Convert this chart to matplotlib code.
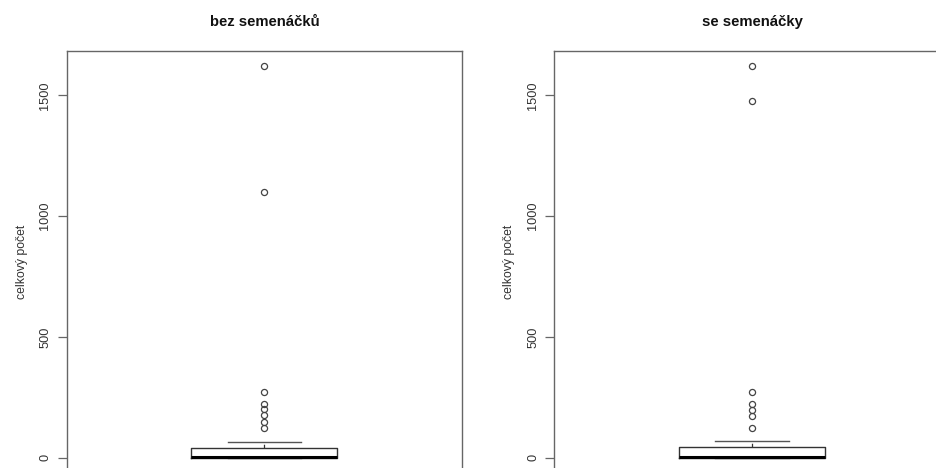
import matplotlib
matplotlib.use("Agg")
import matplotlib.pyplot as plt

plt.rcParams['font.family'] = ['Liberation Sans', 'DejaVu Sans']

titles = ["bez semenáčků", "se semenáčky"]
ylabel = "celkový počet"
yticks = [0, 500, 1000, 1500]

# box statistics
q1 = [0, 0]
med = [2, 2]
q3 = [40, 46]
whislo = [0, 0]
whishi = [66, 68]
fliers_left = [124, 150, 175, 200, 224, 272, 1100, 1620]
fliers_right = [124, 172, 199, 224, 272, 1475, 1620]
fliers = [fliers_left, fliers_right]

W, H = 936, 468
fig = plt.figure(figsize=(W / 100, H / 100), dpi=100)

lefts_px = [66.7, 554.3]
width_px = 395.3
top_px = 50.7
bottom_px = 473.4

frame_col = '#666666'

for i in range(2):
    ax = fig.add_axes([lefts_px[i] / W, (H - bottom_px) / H,
                       width_px / W, (bottom_px - top_px) / H])
    stats = [dict(med=med[i], q1=q1[i], q3=q3[i], whislo=whislo[i],
                  whishi=whishi[i], fliers=fliers[i])]
    ax.bxp(stats, positions=[1], widths=0.37, showfliers=True,
           boxprops=dict(color='#333333', linewidth=1.0),
           medianprops=dict(color='black', linewidth=2.2),
           whiskerprops=dict(color='#333333', linewidth=0.9, linestyle=(0, (3, 2))),
           capprops=dict(color='#555555', linewidth=1.0),
           capwidths=0.186,
           flierprops=dict(marker='o', markersize=4.4, markerfacecolor='none',
                           markeredgecolor='#444444', markeredgewidth=0.9))
    ax.set_xlim(0.5, 1.5)
    rng = 1620
    ax.set_ylim(-0.04 * rng, 1.04 * rng)
    ax.set_xticks([])
    ax.set_yticks(yticks)
    ax.set_yticklabels([str(t) for t in yticks], rotation=90, va='center',
                       fontsize=9.2, color='#333333')
    ax.tick_params(axis='y', length=6.5, width=0.9, color=frame_col, pad=4.5)
    for s in ax.spines.values():
        s.set_color(frame_col)
        s.set_linewidth(1.0)
    ax.set_ylabel(ylabel, fontsize=8.8, color='#333333', labelpad=8.5)
    ax.set_title(titles[i], fontsize=10.7, fontweight='bold', pad=18, color='#111111')

fig.savefig("out.png", dpi=100)
